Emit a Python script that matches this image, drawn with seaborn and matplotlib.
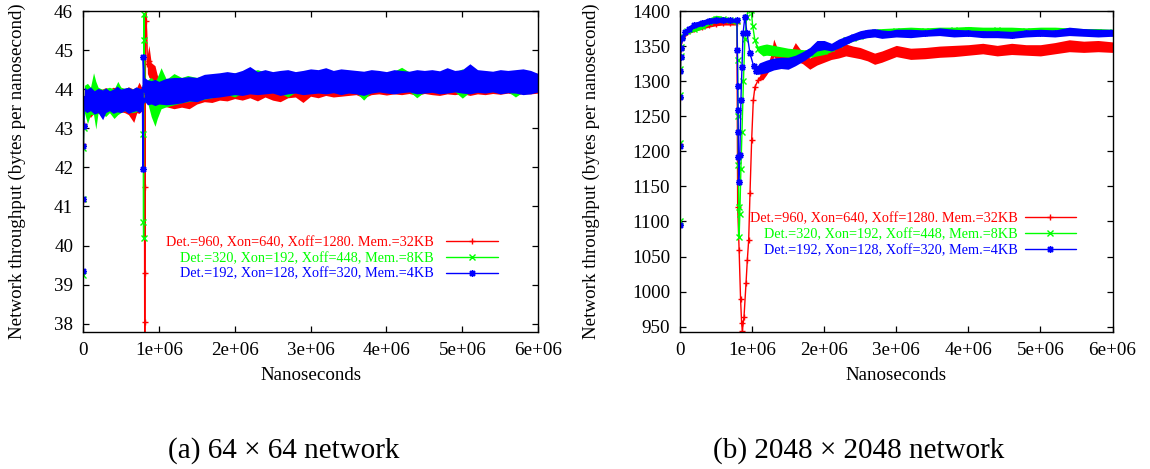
import matplotlib
matplotlib.use("Agg")
import matplotlib.pyplot as plt
import pandas as pd
import seaborn as sns

# ---------------- data ----------------
SERIES_LABELS = [
    "Det.=960, Xon=640, Xoff=1280. Mem.=32KB",
    "Det.=320, Xon=192, Xoff=448, Mem.=8KB",
    "Det.=192, Xon=128, Xoff=320, Mem.=4KB",
]
CAPTIONS = ["(a) 64 \u00d7 64 network", "(b) 2048 \u00d7 2048 network"]
X_LABEL = "Nanoseconds"
Y_LABEL = "Network throughput (bytes per nanosecond)"
X_TICKS = [0, 1e6, 2e6, 3e6, 4e6, 5e6, 6e6]
X_TICK_LABELS = ["0", "1e+06", "2e+06", "3e+06", "4e+06", "5e+06", "6e+06"]
LEFT_Y_TICKS = [38, 39, 40, 41, 42, 43, 44, 45, 46]
RIGHT_Y_TICKS = [950, 1000, 1050, 1100, 1150, 1200, 1250, 1300, 1350, 1400]

# rows: (nanoseconds, lowest throughput, highest throughput) of the noisy trace
LEFT_RED = [
    (0, 41.15, 41.15), (5e3, 42.6, 42.6), (1e4, 43.1, 43.1), (2e4, 43.40, 44.02),
    (5e4, 43.35, 44.00), (1e5, 43.28, 44.05), (1.5e5, 43.40, 43.98), (2e5, 43.38, 44.02),
    (2.5e5, 43.40, 44.00), (3e5, 43.35, 44.04), (3.5e5, 43.42, 44.00), (4e5, 43.40, 44.05),
    (4.5e5, 43.38, 44.02), (5e5, 43.42, 44.05), (5.5e5, 43.40, 44.00), (6e5, 43.35, 44.06),
    (6.7e5, 43.15, 44.00), (7.1e5, 43.40, 44.05), (7.4e5, 43.38, 44.18), (7.8e5, 43.45, 44.02),
    (8.1e5, 43.50, 44.00), (8.12e5, 41.5, 41.5), (8.13e5, 39.3, 39.3), (8.14e5, 38.05, 38.05),
    (8.15e5, 37.0, 37.0), (8.25e5, 46.3, 46.3), (8.35e5, 45.75, 45.75), (8.5e5, 44.40, 44.90),
    (8.7e5, 44.30, 45.12), (9.0e5, 44.25, 44.68), (9.5e5, 44.10, 44.60), (1.0e6, 43.60, 44.20),
    (1.1e6, 43.55, 44.20), (1.2e6, 43.50, 44.25), (1.3e6, 43.54, 44.24), (1.4e6, 43.50, 44.28),
    (1.5e6, 43.62, 44.30), (1.6e6, 43.68, 44.30), (1.7e6, 43.66, 44.35), (1.8e6, 43.72, 44.34),
    (1.9e6, 43.70, 44.38), (2.0e6, 43.76, 44.40), (2.1e6, 43.72, 44.40), (2.2e6, 43.78, 44.42),
    (2.3e6, 43.70, 44.40), (2.4e6, 43.80, 44.42), (2.5e6, 43.72, 44.40), (2.6e6, 43.68, 44.42),
    (2.7e6, 43.78, 44.40), (2.8e6, 43.80, 44.40), (2.9e6, 43.66, 44.42), (3.0e6, 43.82, 44.42),
    (3.1e6, 43.78, 44.40), (3.2e6, 43.84, 44.42), (3.3e6, 43.80, 44.45), (3.4e6, 43.82, 44.42),
    (3.5e6, 43.84, 44.40), (3.6e6, 43.86, 44.42), (3.7e6, 43.78, 44.40), (3.8e6, 43.86, 44.42),
    (3.9e6, 43.88, 44.45), (4.0e6, 43.85, 44.42), (4.1e6, 43.88, 44.44), (4.2e6, 43.86, 44.42),
    (4.3e6, 43.89, 44.45), (4.4e6, 43.84, 44.42), (4.5e6, 43.89, 44.44), (4.6e6, 43.86, 44.46),
    (4.7e6, 43.84, 44.42), (4.8e6, 43.88, 44.44), (4.9e6, 43.86, 44.42), (5.0e6, 43.89, 44.45),
    (5.1e6, 43.84, 44.44), (5.2e6, 43.88, 44.42), (5.3e6, 43.86, 44.46), (5.4e6, 43.89, 44.44),
    (5.5e6, 43.87, 44.42), (5.6e6, 43.90, 44.45), (5.7e6, 43.86, 44.44), (5.8e6, 43.89, 44.46),
    (5.9e6, 43.88, 44.44), (6.0e6, 43.90, 44.40),
]

LEFT_GREEN = [
    (0, 39.25, 39.25), (4e3, 41.2, 41.2), (7e3, 42.5, 42.5), (1e4, 43.0, 43.0), (2e4, 43.40, 44.10),
    (6e4, 43.12, 44.15), (1e5, 43.35, 44.05), (1.4e5, 43.35, 44.42), (1.7e5, 42.98, 44.20),
    (2e5, 43.40, 44.05), (2.5e5, 43.38, 44.00), (3e5, 43.30, 44.02), (3.5e5, 43.40, 44.05),
    (4.1e5, 43.25, 44.00), (4.6e5, 43.35, 44.20), (5e5, 43.40, 44.05), (5.5e5, 43.45, 44.02),
    (6e5, 43.40, 44.05), (6.5e5, 43.40, 44.00), (7e5, 43.42, 44.05), (7.5e5, 43.45, 44.02),
    (7.9e5, 43.50, 44.00), (7.95e5, 42.85, 42.85), (7.98e5, 40.6, 40.6), (8.0e5, 40.18, 40.18),
    (8.03e5, 45.92, 45.92), (8.06e5, 45.25, 45.25), (8.2e5, 43.85, 44.20), (8.6e5, 43.60, 44.25),
    (9.0e5, 43.30, 44.30), (9.5e5, 43.05, 44.20), (9.8e5, 43.25, 44.30), (1.03e6, 43.50, 44.55),
    (1.1e6, 43.55, 44.25), (1.2e6, 43.60, 44.40), (1.3e6, 43.65, 44.30), (1.38e6, 43.68, 44.35),
    (1.5e6, 43.70, 44.30), (1.6e6, 43.74, 44.34), (1.7e6, 43.78, 44.36), (1.8e6, 43.82, 44.38),
    (1.9e6, 43.86, 44.40), (2.0e6, 43.80, 44.42), (2.1e6, 43.90, 44.42), (2.2e6, 43.92, 44.45),
    (2.3e6, 43.90, 44.50), (2.4e6, 43.92, 44.44), (2.5e6, 43.93, 44.42), (2.6e6, 43.90, 44.44),
    (2.7e6, 43.80, 44.46), (2.8e6, 43.92, 44.42), (2.9e6, 43.90, 44.44), (3.0e6, 43.92, 44.46),
    (3.1e6, 43.93, 44.44), (3.2e6, 43.92, 44.46), (3.3e6, 43.94, 44.44), (3.4e6, 43.92, 44.46),
    (3.5e6, 43.93, 44.44), (3.6e6, 43.92, 44.42), (3.7e6, 43.72, 44.44), (3.8e6, 43.93, 44.46),
    (3.9e6, 43.95, 44.44), (4.0e6, 43.93, 44.42), (4.1e6, 43.92, 44.46), (4.2e6, 43.94, 44.56),
    (4.3e6, 43.95, 44.44), (4.4e6, 43.78, 44.42), (4.5e6, 43.93, 44.44), (4.6e6, 43.95, 44.42),
    (4.7e6, 43.93, 44.44), (4.8e6, 43.92, 44.46), (4.9e6, 43.94, 44.44), (5.0e6, 43.77, 44.52),
    (5.1e6, 43.93, 44.46), (5.2e6, 43.95, 44.44), (5.3e6, 43.92, 44.42), (5.4e6, 43.94, 44.44),
    (5.5e6, 43.92, 44.42), (5.6e6, 43.94, 44.44), (5.7e6, 43.80, 44.42), (5.8e6, 43.93, 44.44),
    (5.9e6, 43.95, 44.42), (6.0e6, 43.96, 44.40),
]

LEFT_BLUE = [
    (0, 39.35, 39.35), (3e3, 41.18, 41.18), (6e3, 42.55, 42.55), (9e3, 43.05, 43.05),
    (2e4, 43.45, 44.05), (5e4, 43.40, 44.00), (1e5, 43.45, 44.06), (1.5e5, 43.36, 43.96),
    (2e5, 43.40, 44.02), (2.6e5, 43.22, 43.98), (3e5, 43.40, 44.03), (3.5e5, 43.45, 43.96),
    (4e5, 43.38, 44.00), (4.5e5, 43.42, 44.08), (5e5, 43.40, 44.00), (5.5e5, 43.45, 44.03),
    (6e5, 43.38, 44.05), (6.5e5, 43.42, 44.00), (7e5, 43.45, 44.06), (7.5e5, 43.40, 44.02),
    (7.85e5, 43.48, 43.98), (7.9e5, 41.97, 41.97), (7.95e5, 44.82, 44.82), (8.1e5, 43.70, 44.30),
    (8.5e5, 43.60, 44.24), (9e5, 43.62, 44.22), (9.5e5, 43.58, 44.25), (1.0e6, 43.62, 44.20),
    (1.1e6, 43.60, 44.28), (1.2e6, 43.62, 44.30), (1.3e6, 43.65, 44.30), (1.4e6, 43.70, 44.32),
    (1.5e6, 43.68, 44.30), (1.6e6, 43.75, 44.38), (1.7e6, 43.78, 44.40), (1.8e6, 43.80, 44.42),
    (1.9e6, 43.83, 44.45), (2.0e6, 43.86, 44.42), (2.1e6, 43.84, 44.48), (2.2e6, 43.88, 44.58),
    (2.3e6, 43.86, 44.45), (2.4e6, 43.88, 44.50), (2.5e6, 43.90, 44.45), (2.6e6, 43.84, 44.48),
    (2.7e6, 43.88, 44.50), (2.8e6, 43.90, 44.45), (2.9e6, 43.86, 44.48), (3.0e6, 43.88, 44.52),
    (3.1e6, 43.90, 44.50), (3.2e6, 43.88, 44.55), (3.3e6, 43.91, 44.48), (3.4e6, 43.86, 44.52),
    (3.5e6, 43.90, 44.50), (3.6e6, 43.88, 44.48), (3.7e6, 43.84, 44.46), (3.8e6, 43.90, 44.50),
    (3.9e6, 43.93, 44.48), (4.0e6, 43.90, 44.45), (4.1e6, 43.88, 44.50), (4.2e6, 43.91, 44.48),
    (4.3e6, 43.93, 44.46), (4.4e6, 43.88, 44.50), (4.5e6, 43.90, 44.48), (4.6e6, 43.92, 44.50),
    (4.7e6, 43.88, 44.47), (4.8e6, 43.90, 44.55), (4.9e6, 43.93, 44.48), (5.0e6, 43.90, 44.50),
    (5.1e6, 43.88, 44.65), (5.2e6, 43.92, 44.50), (5.3e6, 43.90, 44.48), (5.4e6, 43.93, 44.46),
    (5.5e6, 43.88, 44.50), (5.6e6, 43.91, 44.48), (5.7e6, 43.90, 44.50), (5.8e6, 43.86, 44.52),
    (5.9e6, 43.88, 44.48), (6.0e6, 43.93, 44.40),
]

RIGHT_RED = [
    (0, 1095, 1095), (2e3, 1210, 1210), (4e3, 1276, 1276), (6e3, 1315, 1315), (8e3, 1335, 1335),
    (1e4, 1346, 1346), (3e4, 1357, 1365), (1e5, 1367, 1374), (2e5, 1371, 1378), (3e5, 1374, 1380),
    (4e5, 1377, 1384), (5e5, 1379, 1385), (6e5, 1380, 1386), (7e5, 1380, 1386), (7.9e5, 1380, 1386),
    (8.0e5, 1120, 1120), (8.2e5, 1060, 1060), (8.4e5, 990, 990), (8.55e5, 955, 955),
    (8.65e5, 944, 944), (8.88e5, 964, 964), (9.16e5, 1012, 1012), (9.34e5, 1045, 1045),
    (9.53e5, 1074, 1074), (9.71e5, 1140, 1140), (9.94e5, 1216, 1216), (1.017e6, 1273, 1273),
    (1.04e6, 1292, 1292), (1.086e6, 1302, 1302), (1.15e6, 1302, 1319), (1.2e6, 1309, 1325),
    (1.25e6, 1317, 1333), (1.3e6, 1335, 1360), (1.35e6, 1329, 1347), (1.4e6, 1323, 1341),
    (1.5e6, 1319, 1335), (1.6e6, 1329, 1355), (1.7e6, 1325, 1341), (1.8e6, 1317, 1333),
    (1.9e6, 1323, 1339), (2.0e6, 1327, 1342), (2.1e6, 1331, 1347), (2.2e6, 1333, 1350),
    (2.3e6, 1336, 1353), (2.4e6, 1334, 1350), (2.5e6, 1332, 1348), (2.6e6, 1329, 1344),
    (2.7e6, 1324, 1340), (2.8e6, 1327, 1343), (2.9e6, 1331, 1347), (3.0e6, 1335, 1351),
    (3.1e6, 1333, 1349), (3.2e6, 1331, 1347), (3.4e6, 1332, 1348), (3.6e6, 1334, 1350),
    (3.8e6, 1335, 1351), (4.0e6, 1337, 1352), (4.2e6, 1339, 1354), (4.4e6, 1336, 1351),
    (4.6e6, 1338, 1354), (4.8e6, 1337, 1352), (5.0e6, 1336, 1352), (5.2e6, 1339, 1355),
    (5.4e6, 1342, 1359), (5.6e6, 1341, 1357), (5.8e6, 1342, 1358), (6.0e6, 1341, 1356),
]

RIGHT_GREEN = [
    (0, 1100, 1100), (2e3, 1212, 1212), (4e3, 1280, 1280), (6e3, 1318, 1318), (8e3, 1336, 1336),
    (1e4, 1348, 1348), (3e4, 1360, 1368), (1e5, 1368, 1376), (2e5, 1371, 1378), (3e5, 1374, 1382),
    (4e5, 1380, 1390), (5e5, 1384, 1394), (6e5, 1385, 1392), (7e5, 1383, 1390), (7.9e5, 1383, 1388),
    (8.0e5, 1330, 1330), (8.05e5, 1250, 1250), (8.1e5, 1180, 1180), (8.15e5, 1120, 1120),
    (8.2e5, 1078, 1078), (8.3e5, 1110, 1110), (8.45e5, 1175, 1175), (8.6e5, 1228, 1228),
    (8.8e5, 1300, 1300), (9.0e5, 1360, 1360), (9.25e5, 1392, 1392), (9.55e5, 1406, 1406),
    (9.85e5, 1402, 1402), (1.01e6, 1378, 1378), (1.04e6, 1358, 1358), (1.08e6, 1342, 1350),
    (1.15e6, 1336, 1352), (1.2e6, 1337, 1353), (1.3e6, 1336, 1351), (1.4e6, 1335, 1349),
    (1.5e6, 1334, 1347), (1.6e6, 1335, 1346), (1.7e6, 1335, 1345), (1.8e6, 1334, 1344),
    (1.9e6, 1336, 1346), (2.0e6, 1338, 1349), (2.1e6, 1342, 1353), (2.2e6, 1348, 1358),
    (2.3e6, 1353, 1363), (2.4e6, 1357, 1367), (2.5e6, 1360, 1370), (2.6e6, 1363, 1372),
    (2.7e6, 1365, 1374), (2.8e6, 1366, 1375), (3.0e6, 1366, 1376), (3.2e6, 1367, 1377),
    (3.4e6, 1366, 1376), (3.6e6, 1367, 1377), (3.8e6, 1368, 1377), (4.0e6, 1368, 1378),
    (4.2e6, 1367, 1377), (4.4e6, 1368, 1377), (4.6e6, 1367, 1377), (4.8e6, 1366, 1376),
    (5.0e6, 1367, 1377), (5.2e6, 1367, 1377), (5.4e6, 1366, 1376), (5.6e6, 1365, 1375),
    (5.8e6, 1366, 1375), (6.0e6, 1366, 1374),
]

RIGHT_BLUE = [
    (0, 1095, 1095), (2e3, 1208, 1208), (4e3, 1277, 1277), (6e3, 1315, 1315), (8e3, 1334, 1334),
    (1e4, 1347, 1347), (3e4, 1358, 1366), (7e4, 1366, 1374), (1.2e5, 1371, 1379), (2e5, 1376, 1384),
    (3e5, 1379, 1387), (4e5, 1382, 1390), (5e5, 1383, 1391), (6e5, 1384, 1391), (7e5, 1384, 1390),
    (7.9e5, 1384, 1389), (7.95e5, 1344, 1344), (8.0e5, 1293, 1293), (8.05e5, 1259, 1259),
    (8.08e5, 1228, 1228), (8.11e5, 1192, 1192), (8.14e5, 1156, 1156), (8.3e5, 1195, 1195),
    (8.45e5, 1273, 1273), (8.6e5, 1320, 1320), (8.75e5, 1368, 1368), (9.0e5, 1392, 1392),
    (9.3e5, 1368, 1368), (9.7e5, 1340, 1340), (1.02e6, 1322, 1322), (1.06e6, 1310, 1320),
    (1.1e6, 1310, 1326), (1.2e6, 1312, 1330), (1.3e6, 1316, 1333), (1.4e6, 1318, 1334),
    (1.5e6, 1317, 1334), (1.6e6, 1322, 1337), (1.7e6, 1328, 1342), (1.8e6, 1335, 1348),
    (1.9e6, 1343, 1358), (2.0e6, 1345, 1358), (2.1e6, 1343, 1354), (2.2e6, 1347, 1360),
    (2.3e6, 1352, 1364), (2.4e6, 1357, 1368), (2.5e6, 1360, 1372), (2.6e6, 1362, 1374),
    (2.7e6, 1363, 1375), (2.8e6, 1361, 1373), (2.9e6, 1362, 1372), (3.0e6, 1363, 1374),
    (3.2e6, 1362, 1374), (3.4e6, 1364, 1373), (3.6e6, 1365, 1376), (3.8e6, 1363, 1374),
    (4.0e6, 1364, 1373), (4.2e6, 1362, 1372), (4.4e6, 1362, 1372), (4.6e6, 1361, 1371),
    (4.8e6, 1363, 1373), (5.0e6, 1364, 1374), (5.2e6, 1363, 1373), (5.4e6, 1365, 1377),
    (5.6e6, 1364, 1375), (5.8e6, 1363, 1374), (6.0e6, 1364, 1374),
]

# ---------------- styling ----------------
COLORS = ["#ff0000", "#00ff00", "#0000ff"]
MARKERS = ["+", "x", (8, 2, 0)]

sns.set_theme(style="ticks")
plt.rcParams.update({
    "font.family": ["Liberation Serif", "DejaVu Serif"],
    "font.size": 13.7,
    "axes.labelsize": 13.7,
    "xtick.labelsize": 13.7,
    "ytick.labelsize": 13.7,
    "axes.linewidth": 1.0,
    "axes.edgecolor": "black",
    "xtick.direction": "in",
    "ytick.direction": "in",
    "xtick.top": True,
    "ytick.right": True,
    "xtick.major.size": 4,
    "ytick.major.size": 4,
    "xtick.major.width": 0.9,
    "ytick.major.width": 0.9,
    "xtick.major.pad": 7,
    "ytick.major.pad": 7,
    "xtick.color": "black",
    "ytick.color": "black",
    "text.color": "black",
    "axes.labelcolor": "black",
})


def to_long(rows):
    xs, ys = [], []
    for x, lo, hi in rows:
        xs += [x, x]
        ys += [lo, hi]
    return pd.DataFrame({"ns": xs, "tp": ys})


def draw(ax, series):
    for i, rows in enumerate(series):
        sns.lineplot(
            data=to_long(rows), x="ns", y="tp", estimator="mean",
            errorbar=("pi", 100), color=COLORS[i], marker=MARKERS[i],
            markersize=5, markeredgewidth=1.0, markeredgecolor=COLORS[i],
            linewidth=1.0, label=SERIES_LABELS[i], zorder=3 + 2 * i,
            err_kws={"alpha": 1, "linewidth": 0, "zorder": 2 + 2 * i},
            ax=ax,
        )


fig = plt.figure(figsize=(11.5, 4.69), dpi=100)
ax_l = fig.add_axes([0.0721, 0.2915, 0.3959, 0.685])
ax_r = fig.add_axes([0.5913, 0.2915, 0.3761, 0.685])

draw(ax_l, [LEFT_RED, LEFT_GREEN, LEFT_BLUE])
draw(ax_r, [RIGHT_RED, RIGHT_GREEN, RIGHT_BLUE])

for ax, yt, ylim, lab_x in [
    (ax_l, LEFT_Y_TICKS, (37.78, 46), -0.125),
    (ax_r, RIGHT_Y_TICKS, (942, 1400), -0.186),
]:
    ax.set_xlim(0, 6e6)
    ax.set_ylim(*ylim)
    ax.set_xticks(X_TICKS, X_TICK_LABELS)
    ax.set_yticks(yt, [str(v) for v in yt])
    ax.set_xlabel(X_LABEL, labelpad=6)
    ax.set_ylabel(Y_LABEL)
    ax.yaxis.set_label_coords(lab_x, 0.5)
    ax.minorticks_off()
    for s in ax.spines.values():
        s.set_visible(True)
        s.set_zorder(20)

ax_l.legend(loc="upper right", bbox_to_anchor=(0.9115, 0.30), frameon=False,
            markerfirst=False, labelcolor="linecolor", fontsize=10.3,
            handlelength=3.6, handletextpad=0.85, labelspacing=0.2,
            borderpad=0, borderaxespad=0, numpoints=1)
ax_r.legend(loc="upper right", bbox_to_anchor=(0.9156, 0.373), frameon=False,
            markerfirst=False, labelcolor="linecolor", fontsize=10.3,
            handlelength=3.6, handletextpad=0.45, labelspacing=0.2,
            borderpad=0, borderaxespad=0, numpoints=1)

fig.text(283.5 / 1150, 1 - 451 / 469, CAPTIONS[0], ha="center", va="center", fontsize=21)
fig.text(858.5 / 1150, 1 - 451 / 469, CAPTIONS[1], ha="center", va="center", fontsize=21)

fig.savefig("out.png", dpi=100, facecolor="white")
